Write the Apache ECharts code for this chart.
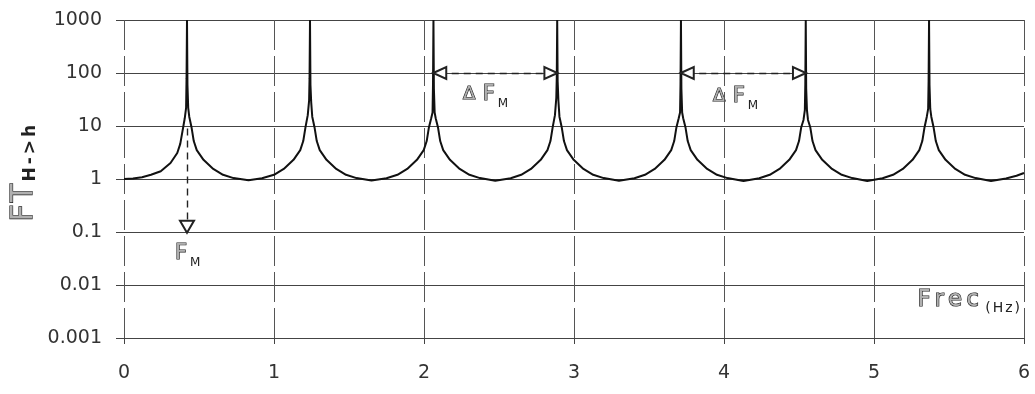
<!DOCTYPE html>
<html>
<head>
<meta charset="utf-8">
<title>FT H->h</title>
<script src="https://cdn.jsdelivr.net/npm/echarts@6/dist/echarts.min.js"></script>
<style>
  html, body { margin: 0; padding: 0; background: #ffffff; }
  #chart { width: 1035px; height: 394px; }
</style>
</head>
<body>
<div id="chart"></div>
<script>
// Frequency samples (Hz), one group per resonance arch
const freqHz = [
  0, 0.06, 0.12, 0.18, 0.245, 0.31, 0.355, 0.375, 0.39, 0.405, 0.414, 0.417, 0.42, 0.423, 0.428, 0.435, 0.45, 0.465, 0.485, 0.53, 0.595, 0.66, 0.73, 0.83,
  0.92, 1.0, 1.065, 1.13, 1.175, 1.195, 1.21, 1.225, 1.234, 1.237, 1.24, 1.243, 1.248, 1.255, 1.27, 1.285, 1.305, 1.35, 1.415, 1.48, 1.55, 1.65,
  1.75, 1.823, 1.888, 1.953, 1.998, 2.018, 2.033, 2.048, 2.057, 2.06, 2.063, 2.066, 2.071, 2.078, 2.093, 2.108, 2.128, 2.173, 2.238, 2.303, 2.373, 2.475,
  2.578, 2.648, 2.713, 2.778, 2.823, 2.843, 2.858, 2.873, 2.882, 2.885, 2.888, 2.891, 2.896, 2.903, 2.918, 2.933, 2.953, 2.998, 3.063, 3.128, 3.198, 3.3,
  3.403, 3.473, 3.538, 3.603, 3.648, 3.668, 3.683, 3.698, 3.707, 3.71, 3.713, 3.716, 3.721, 3.728, 3.743, 3.758, 3.778, 3.823, 3.888, 3.953, 4.023, 4.13,
  4.235, 4.305, 4.37, 4.435, 4.48, 4.5, 4.515, 4.53, 4.539, 4.542, 4.545, 4.548, 4.553, 4.56, 4.575, 4.59, 4.61, 4.655, 4.72, 4.785, 4.855, 4.955,
  5.057, 5.127, 5.192, 5.257, 5.302, 5.322, 5.337, 5.352, 5.361, 5.364, 5.367, 5.37, 5.375, 5.382, 5.397, 5.412, 5.432, 5.477, 5.542, 5.607, 5.677, 5.78,
  5.88, 5.95, 6.0
];

// Transmissibility H->h at each frequency sample
const ftHh = [
  1.0, 1.02, 1.08, 1.2, 1.4, 2.0, 3.1, 4.6, 8.0, 14, 22, 80, 1000, 60, 22, 15, 9.5, 5.2, 3.5, 2.3, 1.55, 1.2, 1.04, 0.95,
  1.03, 1.2, 1.55, 2.3, 3.5, 5.2, 9.5, 16, 30, 80, 1000, 60, 28, 15, 9.5, 5.2, 3.5, 2.3, 1.55, 1.2, 1.04, 0.94,
  1.03, 1.2, 1.55, 2.3, 3.5, 5.2, 9.5, 14, 18, 60, 1000, 50, 18, 14, 9.5, 5.2, 3.5, 2.3, 1.55, 1.2, 1.04, 0.93,
  1.03, 1.2, 1.55, 2.3, 3.5, 5.2, 9.5, 16, 34, 80, 1000, 70, 30, 15, 9.5, 5.2, 3.5, 2.3, 1.55, 1.2, 1.04, 0.93,
  1.03, 1.2, 1.55, 2.3, 3.5, 5.2, 9.5, 14, 18, 60, 1000, 50, 18, 14, 9.5, 5.2, 3.5, 2.3, 1.55, 1.2, 1.04, 0.92,
  1.03, 1.2, 1.55, 2.3, 3.5, 5.2, 9.5, 13, 20, 60, 1000, 50, 20, 13, 9.5, 5.2, 3.5, 2.3, 1.55, 1.2, 1.04, 0.92,
  1.03, 1.2, 1.55, 2.3, 3.5, 5.2, 9.5, 15, 21, 70, 1000, 60, 21, 15, 9.5, 5.2, 3.5, 2.3, 1.55, 1.2, 1.04, 0.92,
  1.02, 1.15, 1.3
];

const xTickLabels = ['0', '1', '2', '3', '4', '5', '6'];
const yTickLabels = ['0.001', '0.01', '0.1', '1', '10', '100', '1000'];

// Resonance markers: first mode frequency and spacing between modes
const fmPeak = 0.42;
const deltaPairs = [[2.063, 2.888], [3.713, 4.545]];

const chart = echarts.init(document.getElementById('chart'), null, { renderer: 'canvas' });

const tickText = { fontFamily: 'DejaVu Sans', fontSize: 19, color: '#333333' };
const ink = '#222222';
const outline = { fill: '#b0b0b0', stroke: '#1a1a1a', lineWidth: 1.2 };

const arrowLines = [];
// dashed drop line from the first resonance down to F_M
arrowLines.push([
  { coord: [fmPeak, 9], symbol: 'none' },
  { coord: [fmPeak, 0.126], symbol: 'emptyTriangle', symbolSize: [14, 12] }
]);
// double arrows spanning one mode spacing
deltaPairs.forEach(function (p) {
  arrowLines.push([
    { coord: [p[0] + 0.042, 100], symbol: 'emptyTriangle', symbolSize: [12, 13] },
    { coord: [p[1] - 0.042, 100], symbol: 'emptyTriangle', symbolSize: [12, 13] }
  ]);
});

const option = {
  animation: false,
  backgroundColor: '#ffffff',
  grid: { left: 124, right: 11, top: 20, bottom: 56, containLabel: false },
  xAxis: {
    type: 'value',
    min: 0,
    max: 6,
    interval: 1,
    axisLine: { show: true, onZero: false, lineStyle: { color: '#444444', width: 1 } },
    axisTick: { show: true, length: 6, lineStyle: { color: '#444444' } },
    axisLabel: Object.assign({ margin: 26, formatter: function (v) { return xTickLabels[Math.round(v)]; } }, tickText),
    splitLine: { show: true, lineStyle: { color: '#555555', width: 1, type: [30, 6] } }
  },
  yAxis: {
    type: 'log',
    logBase: 10,
    min: 0.001,
    max: 1000,
    splitNumber: 6,
    axisLine: { show: false },
    axisTick: { show: true, length: 8, lineStyle: { color: '#444444' } },
    axisLabel: Object.assign({
      margin: 22,
      formatter: function (v) { return yTickLabels[Math.round(Math.log10(v)) + 3]; }
    }, tickText),
    splitLine: { show: true, lineStyle: { color: '#444444', width: 1 } },
    minorTick: { show: false },
    minorSplitLine: { show: false }
  },
  series: [{
    type: 'line',
    data: freqHz.map(function (f, i) { return [f, ftHh[i]]; }),
    showSymbol: false,
    symbol: 'none',
    clip: true,
    z: 3,
    lineStyle: { color: '#111111', width: 2 },
    markLine: {
      silent: true,
      animation: false,
      label: { show: false },
      lineStyle: { color: ink, width: 1.4, type: [7, 5] },
      data: arrowLines
    }
  }],
  graphic: [
    {
      type: 'text', x: 24, y: 173, rotation: Math.PI / 2,
      style: {
        text: '{a|F}{a|T}{b|H}{b|-}{b|>}{b|h}',
        align: 'center', verticalAlign: 'middle',
        rich: {
          a: Object.assign({ fontFamily: 'DejaVu Sans', fontSize: 30, padding: [0, 1] }, outline),
          b: { fontFamily: 'DejaVu Sans', fontSize: 17, fontWeight: 'bold', fill: ink, verticalAlign: 'bottom', padding: [0, 1.5] }
        }
      }
    },
    {
      type: 'text', x: 175, y: 256,
      style: {
        text: '{f|F}{s|M}', align: 'left', verticalAlign: 'middle',
        rich: {
          f: Object.assign({ fontFamily: 'DejaVu Sans', fontSize: 21, padding: [0, 3, 5, 0] }, outline),
          s: { fontFamily: 'DejaVu Sans', fontSize: 12, fill: ink, verticalAlign: 'bottom' }
        }
      }
    },
    {
      type: 'text', x: 463, y: 97,
      style: {
        text: '{d|Δ} {f|F}{s|M}', align: 'left', verticalAlign: 'middle',
        rich: {
          d: Object.assign({ fontFamily: 'DejaVu Sans', fontSize: 18, padding: [0, 4, 5, 0] }, outline),
          f: Object.assign({ fontFamily: 'DejaVu Sans', fontSize: 21, padding: [0, 3, 5, 0] }, outline),
          s: { fontFamily: 'DejaVu Sans', fontSize: 12, fill: ink, verticalAlign: 'bottom' }
        }
      }
    },
    {
      type: 'text', x: 713, y: 99,
      style: {
        text: '{d|Δ} {f|F}{s|M}', align: 'left', verticalAlign: 'middle',
        rich: {
          d: Object.assign({ fontFamily: 'DejaVu Sans', fontSize: 18, padding: [0, 4, 5, 0] }, outline),
          f: Object.assign({ fontFamily: 'DejaVu Sans', fontSize: 21, padding: [0, 3, 5, 0] }, outline),
          s: { fontFamily: 'DejaVu Sans', fontSize: 12, fill: ink, verticalAlign: 'bottom' }
        }
      }
    },
    {
      type: 'text', x: 1021, y: 302,
      style: {
        text: '{a|F}{a|r}{a|e}{a|c} {b|(}{b|H}{b|z}{b|)}', align: 'right', verticalAlign: 'middle',
        rich: {
          a: Object.assign({ fontFamily: 'DejaVu Sans', fontSize: 23, padding: [0, 2, 3, 2] }, outline),
          b: { fontFamily: 'DejaVu Sans', fontSize: 14, fill: ink, verticalAlign: 'bottom', padding: [0, 1] }
        }
      }
    }
  ]
};

chart.setOption(option);
</script>
</body>
</html>
